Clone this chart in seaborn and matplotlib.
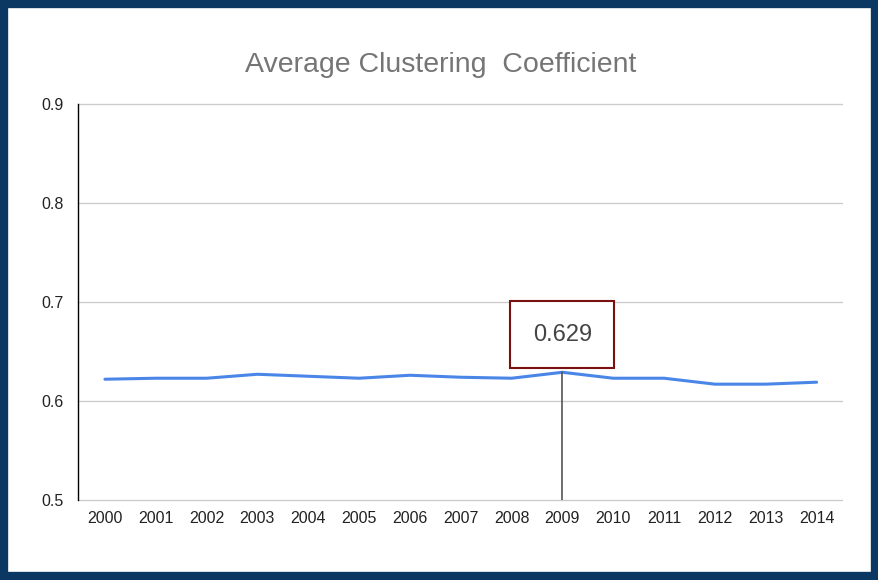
import matplotlib
matplotlib.use("Agg")
import matplotlib.pyplot as plt
import seaborn as sns
import pandas as pd
from matplotlib.patches import Rectangle

years = ["2000", "2001", "2002", "2003", "2004", "2005", "2006", "2007",
         "2008", "2009", "2010", "2011", "2012", "2013", "2014"]
clustering = [0.622, 0.623, 0.623, 0.627, 0.625, 0.623, 0.626, 0.624,
              0.623, 0.629, 0.623, 0.623, 0.617, 0.617, 0.619]
highlight_year = "2009"
y_ticks = [0.5, 0.6, 0.7, 0.8, 0.9]

df = pd.DataFrame({"year": years, "value": clustering})
df["pos"] = range(len(df))

sns.set_style("white")
plt.rcParams["font.family"] = ["Liberation Sans", "DejaVu Sans"]

fig = plt.figure(figsize=(8.79, 5.8), dpi=100)
ax = fig.add_axes([78 / 879, 1 - 500 / 580, (842 - 78) / 879, (500 - 104) / 580])

sns.lineplot(data=df, x="pos", y="value", ax=ax, color="#4a86e8", linewidth=2.2)

ax.set_xlim(-0.53, len(years) - 0.5)
ax.set_ylim(0.5, 0.9)
ax.set_yticks(y_ticks)
ax.set_yticklabels([f"{t:.1f}" for t in y_ticks])
ax.set_xticks(df["pos"])
ax.set_xticklabels(years)
ax.tick_params(axis="both", length=0, labelsize=11.5, colors="#222222")
ax.tick_params(axis="x", pad=8)
ax.tick_params(axis="y", pad=10)
ax.grid(axis="y", color="#cccccc", linewidth=1)
for gl in ax.get_ygridlines():
    gl.set_clip_on(False)
ax.set_axisbelow(True)
ax.set_xlabel("")
ax.set_ylabel("")
for s in ["top", "right", "bottom"]:
    ax.spines[s].set_visible(False)
ax.spines["left"].set_color("black")
ax.spines["left"].set_linewidth(1)

# highlighted point
hi = df[df["year"] == highlight_year].iloc[0]
ax.plot([hi["pos"], hi["pos"]], [0.5, hi["value"]], color="#555555", linewidth=1.2)
ax.annotate(f"{hi['value']:.3f}", xy=(hi["pos"], hi["value"]),
            xytext=(0, 27), textcoords="offset points", ha="center", va="center",
            fontsize=17, color="#444444",
            bbox=dict(boxstyle="square,pad=0.95", fc="white", ec="#7a1010", lw=1.5))

fig.text(441 / 879, 1 - 65 / 580, "Average Clustering  Coefficient",
         ha="center", va="center", fontsize=20.5, color="#757575")

# dark frame around the chart
fig.patches.append(Rectangle((0.0045, 0.007), 0.991, 0.986, transform=fig.transFigure,
                             fill=False, edgecolor="#0b3763", linewidth=6, zorder=10))

fig.savefig("out.png", dpi=100)
